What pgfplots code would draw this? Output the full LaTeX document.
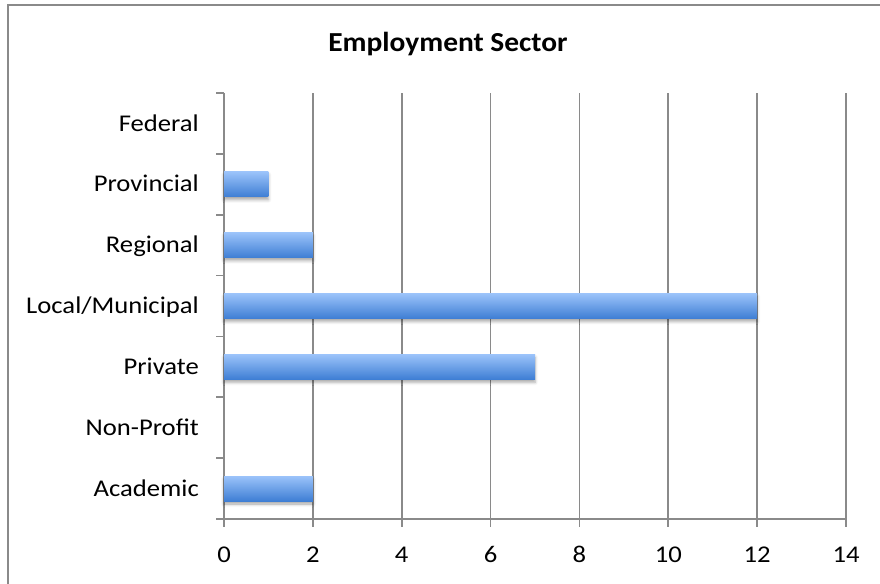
\documentclass[border=0pt]{standalone}
\usepackage{pgfplots}
\pgfplotsset{compat=1.18}
\usepackage{fontspec}
\setmainfont{Carlito}
\newfontfamily\labelfont{Carlito}[FakeStretch=1.11]
\newfontfamily\titlefont{Carlito}[FakeStretch=1.07]
\usetikzlibrary{shadows.blur}

\definecolor{barTop}{HTML}{9BC3FA}
\definecolor{barBot}{HTML}{3E7ED4}
\definecolor{axisGray}{HTML}{8A8A8A}

\pgfplotsset{
    sectorbar/.style={draw=none, top color=barTop, bottom color=barBot,
        blur shadow={shadow xshift=0bp, shadow yshift=-3bp, shadow blur radius=3bp, shadow opacity=35}},
    emptybar/.style={draw=none, fill=none},
}

\begin{document}
\begin{tikzpicture}[x=1bp,y=1bp]
\useasboundingbox (0,0) rectangle (880,584);
% chart frame (open at right and bottom, as in the source)
\draw[axisGray, line width=2bp] (8,0) -- (8,579) -- (880,579);

\node[anchor=base, font=\titlefont\fontsize{27.5bp}{30bp}\selectfont\bfseries] at (448,532) {Employment Sector};

\begin{axis}[
    scale only axis,
    width=622bp, height=426bp,
    at={(224bp,65bp)}, anchor=south west,
    xmin=0, xmax=14,
    ymin=-0.5, ymax=6.5,
    xtick={0,2,...,14},
    ytick={0,...,6},
    yticklabels={Academic, Non-Profit, Private\ , Local/Municipal, Regional, Provincial, Federal},
    minor ytick={-0.5,0.5,...,6.5},
    axis x line*=bottom,
    axis y line*=left,
    axis line style={axisGray, line width=1.6bp},
    tick align=outside,
    major tick length=8bp,
    minor tick length=8bp,
    tick style={axisGray, line width=1.6bp},
    major y tick style={draw=none},
    xmajorgrids,
    grid style={axisGray, line width=1.6bp},
    ticklabel style={font=\labelfont\fontsize{24bp}{26bp}\selectfont, text=black},
    /pgf/number format/assume math mode=true,
    yticklabel style={anchor=base east, inner sep=0pt, xshift=-17bp, yshift=-7.7bp},
    xticklabel style={anchor=base, inner sep=0pt, yshift=-36bp},
    xbar,
    bar width=25bp,
    bar shift=0pt,
    clip=false,
]
% one plot per bar so that each bar gets its own gradient
\addplot[sectorbar] coordinates {(2,0)};  % Academic
\addplot[emptybar]  coordinates {(0,1)};  % Non-Profit
\addplot[sectorbar] coordinates {(7,2)};  % Private
\addplot[sectorbar] coordinates {(12,3)}; % Local/Municipal
\addplot[sectorbar] coordinates {(2,4)};  % Regional
\addplot[sectorbar] coordinates {(1,5)};  % Provincial
\addplot[emptybar]  coordinates {(0,6)};  % Federal
\end{axis}
\end{tikzpicture}
\end{document}
